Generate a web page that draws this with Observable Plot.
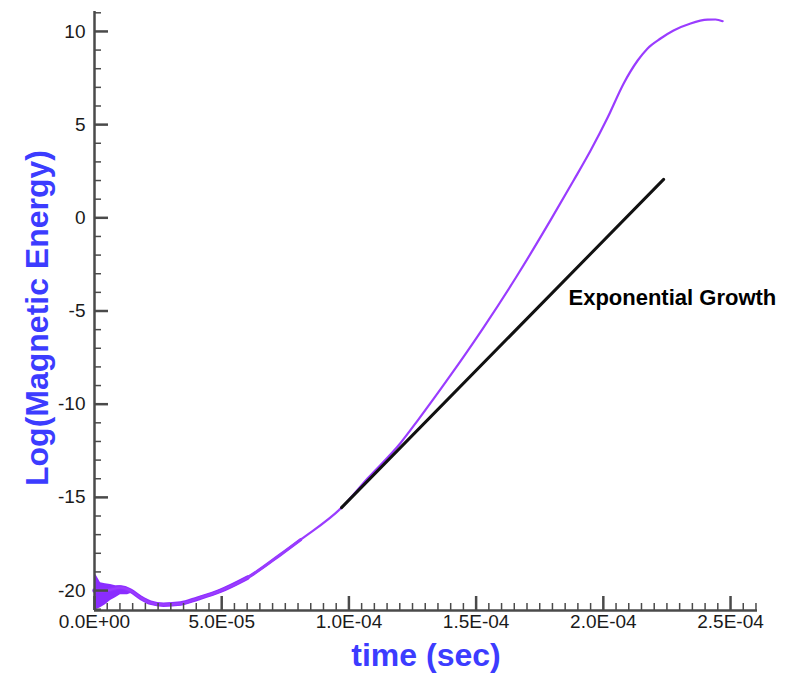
<!DOCTYPE html>
<html><head><meta charset="utf-8">
<script src="https://cdn.jsdelivr.net/npm/d3@7"></script>
<script src="https://cdn.jsdelivr.net/npm/@observablehq/plot@0.6"></script>
<style>html,body{margin:0;padding:0;background:#fff}svg{display:block}</style>
</head><body><div id="chart"></div>
<script>
// Purple curve: time (sec) and log(magnetic energy)
const timeSec = [0, 3.5e-6, 6.3e-6, 1.02e-5, 1.42e-5, 1.81e-5, 2.20e-5, 2.71e-5, 3.38e-5, 4.05e-5, 4.95e-5, 6.01e-5, 7.31e-5, 8.10e-5, 9.71e-5, 1.073e-4, 1.203e-4, 1.270e-4, 1.399e-4, 1.529e-4, 1.659e-4, 1.792e-4, 1.883e-4, 1.950e-4, 2.017e-4, 2.080e-4, 2.135e-4, 2.174e-4, 2.225e-4, 2.276e-4, 2.343e-4, 2.410e-4, 2.441e-4, 2.469e-4];
const logEnergy = [-20.0, -20.0, -19.95, -19.84, -20.01, -20.38, -20.65, -20.76, -20.70, -20.43, -20.01, -19.31, -18.07, -17.27, -15.55, -13.99, -12.08, -10.88, -8.46, -5.89, -3.15, -0.14, 2.00, 3.61, 5.38, 7.21, 8.44, 9.09, 9.62, 10.05, 10.43, 10.63, 10.64, 10.55];

// Noisy band at the very start
const noiseTime = [0, 7.9e-7, 2.36e-6, 4.3e-6, 6.3e-6, 8.3e-6, 1.02e-5, 1.3e-5, 1.53e-5];
const noiseLow  = [-21.02, -21.02, -20.92, -20.76, -20.54, -20.38, -20.22, -20.22, -20.11];
const noiseHigh = [-19.05, -19.2, -19.58, -19.63, -19.68, -19.74, -19.74, -19.84, -20.05];

// Exponential growth fit line
const fitTime = [9.71e-5, 2.237e-4];
const fitLogEnergy = [-15.55, 2.06];
const annotationText = ["Exponential Growth"];
const annotationTime = [1.863e-4];
const annotationLogEnergy = [-4.28];

// Axes
const xTicks = [0, 5e-5, 1e-4, 1.5e-4, 2e-4, 2.5e-4];
const xTickLabels = ["0.0E+00", "5.0E-05", "1.0E-04", "1.5E-04", "2.0E-04", "2.5E-04"];
const yTicks = [-20, -15, -10, -5, 0, 5, 10];
const yTickLabels = ["-20", "-15", "-10", "-5", "0", "5", "10"];
const xMinorTicks = d3.range(0, 53).filter(i => i % 10 !== 0).map(i => i * 5e-6);
const yMinorTicks = d3.range(-21, 12).filter(v => v % 5 !== 0);
const xTitle = "time (sec)";
const yTitle = "Log(Magnetic Energy)";

const purple = "#9a3cff";
const blue = "#3c3cff";
const axisColor = "#4a4a4a";

const curve = timeSec.map((t, i) => ({t, v: logEnergy[i]}));
const early1 = curve.filter(d => d.t <= 6.1e-5);
const early2 = curve.filter(d => d.t <= 8.2e-5);
const noise = noiseTime.map((t, i) => ({t, lo: noiseLow[i], hi: noiseHigh[i]}));
const fit = fitTime.map((t, i) => ({t, v: fitLogEnergy[i]}));
const notes = annotationText.map((s, i) => ({s, t: annotationTime[i], v: annotationLogEnergy[i]}));

const chart = Plot.plot({
  width: 794,
  height: 678,
  marginLeft: 94,
  marginRight: 37,
  marginTop: 11,
  marginBottom: 68,
  x: {domain: [0, 2.606e-4]},
  y: {domain: [-21.07, 11.07]},
  style: {fontFamily: "'Liberation Sans', Arial, Helvetica, sans-serif", background: "#fff", color: "#1a1a1a"},
  marks: [
    Plot.areaY(noise, {x: "t", y1: "lo", y2: "hi", fill: "#8a2cff", curve: "linear"}),
    Plot.line(early2, {x: "t", y: "v", stroke: "#9334ff", strokeWidth: 3.2, curve: "monotone-x"}),
    Plot.line(early1, {x: "t", y: "v", stroke: "#8f30ff", strokeWidth: 4.5, curve: "monotone-x"}),
    Plot.line(curve, {x: "t", y: "v", stroke: purple, strokeWidth: 2.2, curve: "monotone-x"}),
    Plot.line(fit, {x: "t", y: "v", stroke: "#111", strokeWidth: 3}),
    Plot.text(notes, {x: "t", y: "v", text: "s", textAnchor: "start", fontSize: 22, fontWeight: "bold", fill: "#000"}),
    Plot.axisX({ticks: xMinorTicks, tickSize: -7, tickFormat: () => "", stroke: axisColor, strokeWidth: 1.5, label: null}),
    Plot.axisY({ticks: yMinorTicks, tickSize: -7, tickFormat: () => "", stroke: axisColor, strokeWidth: 1.5, label: null}),
    Plot.axisX({ticks: xTicks, tickSize: -14, tickPadding: 18, tickFormat: d => xTickLabels[xTicks.indexOf(d)], fontSize: 19, stroke: axisColor, fill: "#1a1a1a", strokeWidth: 2.5, label: null}),
    Plot.axisY({ticks: yTicks, tickSize: -14, tickPadding: 23, tickFormat: d => yTickLabels[yTicks.indexOf(d)], fontSize: 19, stroke: axisColor, fill: "#1a1a1a", strokeWidth: 2.5, label: null}),
    Plot.ruleY([-21.07], {stroke: axisColor, strokeWidth: 2.5}),
    Plot.ruleX([0], {stroke: axisColor, strokeWidth: 2.5}),
    Plot.text([xTitle], {text: d => d, frameAnchor: "bottom", lineAnchor: "middle", textAnchor: "middle", dy: 45, fontSize: 32, fontWeight: "bold", fill: blue}),
    Plot.text([yTitle], {text: d => d, frameAnchor: "left", lineAnchor: "middle", textAnchor: "middle", dx: -57, dy: 7, rotate: -90, fontSize: 32, fontWeight: "bold", fill: blue})
  ]
});
document.getElementById("chart").appendChild(chart);
</script>
</body></html>
